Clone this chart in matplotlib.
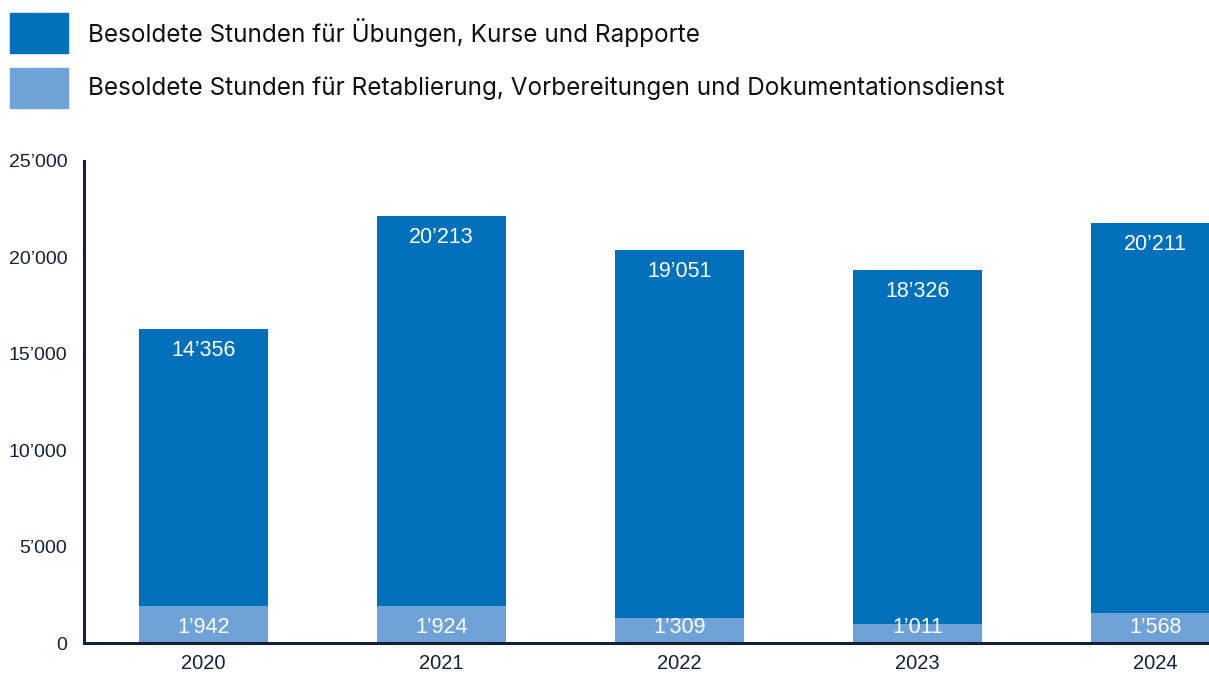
import matplotlib.pyplot as plt
from matplotlib.patches import Rectangle

years = ["2020", "2021", "2022", "2023", "2024"]
retablierung = [1942, 1924, 1309, 1011, 1568]
uebungen = [14356, 20213, 19051, 18326, 20211]
legend_labels = [
    "Besoldete Stunden für Übungen, Kurse und Rapporte",
    "Besoldete Stunden für Retablierung, Vorbereitungen und Dokumentationsdienst",
]
y_ticks = [0, 5000, 10000, 15000, 20000, 25000]

DARK = "#0070ba"
LIGHT = "#6fa3d7"
INK = "#13203a"


def fmt(v):
    return f"{v:,}".replace(",", "\u2019")


plt.rcParams["font.family"] = ["Liberation Sans", "DejaVu Sans"]

fig = plt.figure(figsize=(12.09, 6.73), dpi=100)
ax = fig.add_axes([84 / 1209, 1 - 643 / 673, 1 - 84 / 1209, (643 - 161) / 673])

x = list(range(len(years)))
width = 0.542
ax.bar(x, retablierung, width, color=LIGHT, zorder=2)
ax.bar(x, uebungen, width, bottom=retablierung, color=DARK, zorder=2)

for xi, lo, hi in zip(x, retablierung, uebungen):
    ax.annotate(fmt(lo), (xi, 0), xytext=(0, 11.5), textcoords="offset points",
                ha="center", va="center", color="white", fontsize=15.5)
    ax.annotate(fmt(hi), (xi, lo + hi), xytext=(0, -15.5), textcoords="offset points",
                ha="center", va="center", color="white", fontsize=15.5)

ax.set_xlim(-0.502, 4.225)
ax.set_ylim(0, 25000)
ax.set_xticks(x)
ax.set_xticklabels(years)
ax.set_yticks(y_ticks)
ax.set_yticklabels([fmt(v) for v in y_ticks])
ax.tick_params(length=0, labelsize=14, colors=INK)
ax.tick_params(axis="x", pad=8, labelsize=14.5)
ax.tick_params(axis="y", pad=12)
for s in ["top", "right"]:
    ax.spines[s].set_visible(False)
for s in ["left", "bottom"]:
    ax.spines[s].set_color(INK)
    ax.spines[s].set_linewidth(2.2)

# legend drawn in figure pixels
for i, (lab, col) in enumerate(zip(legend_labels, [DARK, LIGHT])):
    y0 = 13 + i * 55
    fig.patches.append(Rectangle((10 / 1209, 1 - (y0 + 40) / 673), 58 / 1209, 40 / 673,
                                 transform=fig.transFigure, color=col))
    fig.text(88 / 1209, 1 - (y0 + 20) / 673, lab, fontsize=17.5, color="#111111",
             va="center", ha="left", family=["Inter", "DejaVu Sans"])

fig.savefig("out.png", dpi=100)
